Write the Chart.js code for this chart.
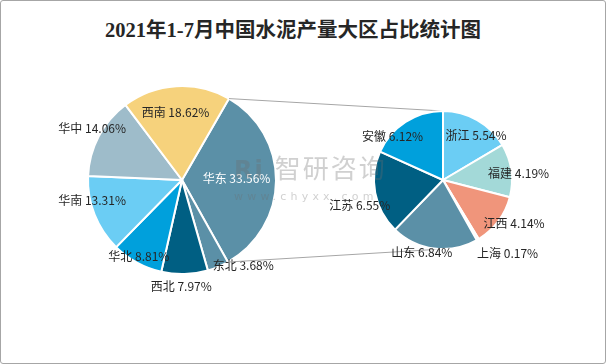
<!DOCTYPE html>
<html>
<head>
<meta charset="utf-8">
<script src="https://cdn.jsdelivr.net/npm/chart.js@4/dist/chart.umd.min.js"></script>
<style>
  body { margin: 0; background: #fff; }
  #wrap { position: relative; width: 606px; height: 364px; box-sizing: border-box; border: 1px solid #a6a6a6; border-radius: 3px; overflow: hidden; }
  #wrap canvas { position: absolute; left: -1px; top: -1px; }
  #title { position: absolute; left: 0; width: 584px; top: 12px; text-align: center; font: bold 20.5px "Liberation Serif", "Noto Sans CJK SC", serif; color: #262626; }
  #wm { position: absolute; left: 233px; top: 151px; color: rgba(110,110,110,0.32); font-family: "Noto Sans CJK SC", sans-serif; z-index: 5; }
  #wm .big { font-size: 26px; letter-spacing: 2px; line-height: 30px; }
  #wm .big b { font: bold 24px "DejaVu Sans", sans-serif; margin-right: 10px; }
  #wm .small { font: 11px "DejaVu Sans", sans-serif; letter-spacing: 4.2px; margin-top: 6px; }
</style>
</head>
<body>
<div id="wrap">
  <div id="title">2021年1-7月中国水泥产量大区占比统计图</div>
  <canvas id="big" width="606" height="364"></canvas>
  <canvas id="small" width="606" height="364"></canvas>
  <div id="wm"><div class="big"><b>Ri</b>智研咨询</div><div class="small">www.chyxx.com</div></div>
</div>
<script>
// ==================== 数据 ====================
const bigLabels = ['华东', '东北', '西北', '华北', '华南', '华中', '西南'];
const bigValues = [33.56, 3.68, 7.97, 8.81, 13.31, 14.06, 18.62];
const smallLabels = ['浙江', '福建', '江西', '上海', '山东', '江苏', '安徽'];
const smallValues = [5.54, 4.19, 4.14, 0.17, 6.84, 6.55, 6.12];

const bigColors = ['#5b90a7', '#5b90a7', '#005f83', '#00a0dc', '#6bcdf4', '#9ebcca', '#f6d27c'];
const smallColors = ['#6bcdf4', '#a3d9d8', '#f0957b', '#e0e0e0', '#5b90a7', '#005f83', '#00a0dc'];

// label placement: [radius factor, angle shift (deg)]
const bigLabelPos = [[0.58, -2], [1.12, -13], [1.13, 2], [0.93, 1], [0.98, 9], [1.1, 2], [0.72, -2]];
const smallLabelPos = [[0.8, 7], [1.1, 3], [1.21, -5], [1.42, -11], [1.09, 9], [1.26, -6], [0.97, -16]];

const labelPlugin = (labels, values, pos, colors) => ({
  id: 'sliceLabels',
  afterDatasetsDraw(chart) {
    const ctx = chart.ctx;
    const meta = chart.getDatasetMeta(0);
    ctx.save();
    ctx.font = '12px "Noto Sans CJK SC", sans-serif';
    ctx.textAlign = 'center';
    ctx.textBaseline = 'middle';
    meta.data.forEach((arc, i) => {
      const [f, shift] = pos[i];
      const mid = (arc.startAngle + arc.endAngle) / 2 + shift * Math.PI / 180;
      const r = arc.outerRadius * f;
      ctx.fillStyle = colors[i];
      ctx.fillText(labels[i] + ' ' + values[i].toFixed(2) + '%', arc.x + r * Math.cos(mid), arc.y + r * Math.sin(mid));
    });
    ctx.restore();
  }
});

const baseOpts = (padding, rotation) => ({
  responsive: false, animation: false, rotation: rotation,
  layout: { padding: padding },
  plugins: { legend: { display: false }, tooltip: { enabled: false } },
  events: []
});

const bigChart = new Chart(document.getElementById('big'), {
  type: 'pie',
  data: { labels: bigLabels, datasets: [{ data: bigValues, backgroundColor: bigColors, borderColor: '#fff', borderWidth: 2 }] },
  options: baseOpts({ left: 87, right: 329, top: 85, bottom: 89 }, 30),
  plugins: [labelPlugin(bigLabels, bigValues, bigLabelPos, ['#fff', '#262626', '#262626', '#262626', '#262626', '#262626', '#262626'])]
});

// connector lines from 华东 slice to the breakdown pie
const connectorPlugin = {
  id: 'connector',
  beforeDatasetsDraw(chart) {
    const src = bigChart.getDatasetMeta(0).data[0];
    const dst = chart.getDatasetMeta(0).data[0];
    const R = src.outerRadius;
    const ctx = chart.ctx;
    ctx.save();
    ctx.strokeStyle = '#a6a6a6';
    ctx.lineWidth = 1;
    ctx.beginPath();
    ctx.moveTo(src.x + R * Math.cos(src.startAngle), src.y + R * Math.sin(src.startAngle));
    ctx.lineTo(dst.x, dst.y - dst.outerRadius);
    ctx.moveTo(src.x + R * Math.cos(src.endAngle), src.y + R * Math.sin(src.endAngle));
    ctx.lineTo(dst.x, dst.y + dst.outerRadius);
    ctx.stroke();
    ctx.restore();
  }
};

new Chart(document.getElementById('small'), {
  type: 'pie',
  data: { labels: smallLabels, datasets: [{ data: smallValues, backgroundColor: smallColors, borderColor: '#fff', borderWidth: 2 }] },
  options: baseOpts({ left: 373, right: 93, top: 110, bottom: 114 }, 0),
  plugins: [connectorPlugin, labelPlugin(smallLabels, smallValues, smallLabelPos, smallLabels.map(() => '#262626'))]
});
</script>
</body>
</html>
